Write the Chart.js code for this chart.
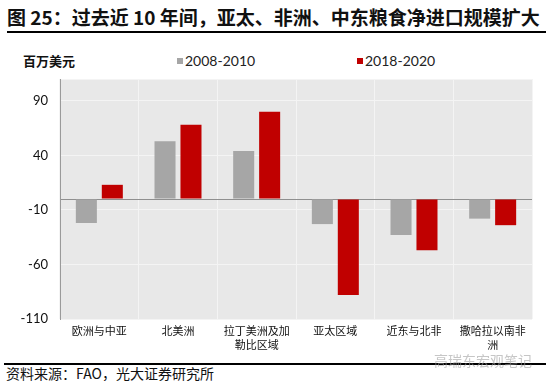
<!DOCTYPE html>
<html>
<head>
<meta charset="utf-8">
<script src="https://cdn.jsdelivr.net/npm/chart.js@4.4.1/dist/chart.umd.min.js"></script>
<style>
  body { margin: 0; width: 550px; height: 381px; background: #fff; position: relative; overflow: hidden; font-family: "Noto Sans CJK SC", sans-serif; }
  .abs { position: absolute; }
  #title { left: 7px; top: 3px; font-size: 19px; font-weight: bold; color: #111; white-space: nowrap; }
  #rule1 { left: 7px; top: 31px; width: 539px; height: 2px; background: #000; }
  #unit { left: 23px; top: 51px; font-size: 13px; font-weight: bold; color: #111; }
  .legend { top: 52px; font-family: Lato, sans-serif; font-size: 14px; color: #222; white-space: nowrap; }
  .legend i { display: inline-block; width: 6px; height: 6px; margin-right: 2px; vertical-align: 2px; }
  #rule2 { left: 4px; top: 363px; width: 542px; height: 2px; background: #000; }
  #source { left: 6px; top: 363px; font-size: 14px; color: #111; white-space: nowrap; }
  #mark { left: 434px; top: 350px; font-size: 14px; color: rgba(160,160,160,0.6); white-space: nowrap; }
  #chart { left: 0; top: 75px; }
</style>
</head>
<body>
<div id="title" class="abs">图 25：过去近 10 年间，亚太、非洲、中东粮食净进口规模扩大</div>
<div id="rule1" class="abs"></div>
<div id="unit" class="abs">百万美元</div>
<div id="legend"></div>
<canvas id="chart" class="abs" width="550" height="285"></canvas>
<div id="rule2" class="abs"></div>
<div id="mark" class="abs">高瑞东宏观笔记</div>
<div id="source" class="abs">资料来源：FAO，光大证券研究所</div>
<script>
const regions = [
  "欧洲与中亚",
  "北美洲",
  ["拉丁美洲及加", "勒比区域"],
  "亚太区域",
  "近东与北非",
  ["撒哈拉以南非", "洲"]
];
const seriesNames = ["2008-2010", "2018-2020"];
const seriesColors = ["#a6a6a6", "#c00000"];
const netImports2008 = [-22, 53, 44, -23, -33, -18];
const netImports2018 = [13, 68, 80, -88, -47, -24];
const yTicks = [-110, -60, -10, 40, 90];

// legend (same layout as the source figure)
const legendX = [177, 357];
seriesNames.forEach((name, i) => {
  const el = document.createElement("div");
  el.className = "abs legend";
  el.style.left = legendX[i] + "px";
  el.innerHTML = `<i style="background:${seriesColors[i]}"></i>${name}`;
  document.getElementById("legend").appendChild(el);
});

const plotBg = {
  id: "plotBg",
  beforeDraw(chart) {
    const { ctx, chartArea: a } = chart;
    ctx.save();
    ctx.fillStyle = "#e8e8e8";
    ctx.fillRect(a.left, a.top, a.right - a.left, a.bottom - a.top);
    ctx.restore();
  }
};

Chart.defaults.font.family = "Lato, sans-serif";
Chart.defaults.color = "#111";

new Chart(document.getElementById("chart"), {
  type: "bar",
  data: {
    labels: regions,
    datasets: [
      { label: seriesNames[0], data: netImports2008, backgroundColor: seriesColors[0] },
      { label: seriesNames[1], data: netImports2018, backgroundColor: seriesColors[1] }
    ]
  },
  options: {
    responsive: false,
    animation: false,
    devicePixelRatio: 1,
    layout: { padding: { left: 0, right: 18, top: 4, bottom: 0 } },
    categoryPercentage: 0.66,
    barPercentage: 0.81,
    plugins: { legend: { display: false }, tooltip: { enabled: false } },
    scales: {
      x: {
        grid: { color: "#f4f4f4", lineWidth: 1, drawTicks: false },
        border: { display: false },
        ticks: {
          font: { family: "Noto Sans CJK SC", size: 11, lineHeight: 1.27 },
          padding: 5,
          maxRotation: 0,
          autoSkip: false
        },
        afterFit: (scale) => { scale.height = 41; scale.paddingLeft = 0; scale.paddingRight = 0; }
      },
      y: {
        min: -110,
        max: 110,
        afterBuildTicks: (scale) => {
          scale.ticks = [...yTicks, 0, 110].map(v => ({ value: v }));
        },
        grid: {
          drawTicks: false,
          color: (c) => c.tick && c.tick.value === 0 ? "#8f8f8f" : "#f4f4f4",
          lineWidth: 1
        },
        border: { display: true, color: "#9a9a9a", width: 1 },
        ticks: {
          font: { size: 13 },
          padding: 12,
          callback: (v) => yTicks.includes(v) ? v : ""
        },
        afterFit: (scale) => { scale.width = 60; scale.paddingTop = 0; scale.paddingBottom = 0; }
      }
    }
  },
  plugins: [plotBg]
});
</script>
</body>
</html>
